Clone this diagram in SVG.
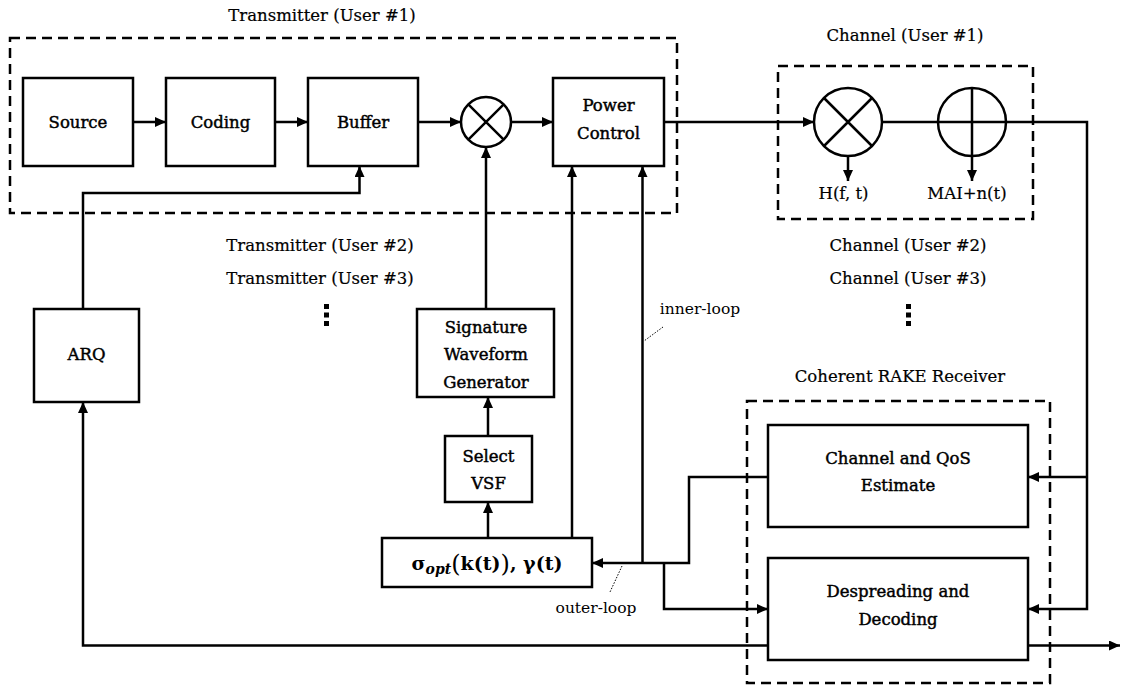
<svg xmlns="http://www.w3.org/2000/svg" width="1134" height="687" viewBox="0 0 1134 687">
<style>
.box{fill:#fff;stroke:#000;stroke-width:2.5}
.dash{fill:none;stroke:#000;stroke-width:2.5;stroke-dasharray:10 6}
.ln{fill:none;stroke:#000;stroke-width:2.5}
.lead{fill:none;stroke:#000;stroke-width:1;stroke-dasharray:1.5 1.5}
text{font-family:"DejaVu Serif","Liberation Serif",serif;fill:#000;text-anchor:middle}
.t{font-size:16.5px;stroke:#000;stroke-width:0.2}
.n{font-size:16.5px;stroke:#000;stroke-width:0.45}
.s{font-size:15.5px}
.dot{fill:#000}
</style>
<defs>
<marker id="ah" markerUnits="userSpaceOnUse" markerWidth="11" markerHeight="10" refX="11" refY="5" orient="auto">
<path d="M0,0 L11,5 L0,10 z" fill="#000"/>
</marker>
</defs>

<g id="labels">
<text class="t" x="322" y="21">Transmitter (User #1)</text>
<text class="t" x="320" y="251">Transmitter (User #2)</text>
<text class="t" x="320" y="284">Transmitter (User #3)</text>
<rect class="dot" x="324" y="304" width="5" height="5"/>
<rect class="dot" x="324" y="312.5" width="5" height="5"/>
<rect class="dot" x="324" y="321" width="5" height="5"/>
<text class="t" x="905" y="41">Channel (User #1)</text>
<text class="t" x="908" y="251">Channel (User #2)</text>
<text class="t" x="908" y="284">Channel (User #3)</text>
<rect class="dot" x="906" y="304" width="5" height="5"/>
<rect class="dot" x="906" y="312.5" width="5" height="5"/>
<rect class="dot" x="906" y="321" width="5" height="5"/>
<text class="t" x="900" y="382">Coherent RAKE Receiver</text>
<text class="s" x="700" y="314">inner-loop</text>
<text class="s" x="596" y="613">outer-loop</text>
</g>

<g id="transmitter-group">
<rect class="dash" x="10" y="38" width="667" height="175"/>
</g>
<g id="channel-group">
<rect class="dash" x="778" y="66" width="255" height="153"/>
</g>
<g id="receiver-group">
<rect class="dash" x="747" y="401" width="303" height="282"/>
</g>

<g id="connectors">
<path class="ln" d="M133,122 H166" marker-end="url(#ah)"/>
<path class="ln" d="M275,122 H308" marker-end="url(#ah)"/>
<path class="ln" d="M418,122 H461" marker-end="url(#ah)"/>
<path class="ln" d="M511,122 H553" marker-end="url(#ah)"/>
<path class="ln" d="M664,122 H814" marker-end="url(#ah)"/>
<path class="ln" d="M882,122 H938"/>
<path class="ln" d="M1006,122 H1087 V609 H1028" marker-end="url(#ah)"/>
<path class="ln" d="M1087,477 H1028" marker-end="url(#ah)"/>
<path class="ln" d="M848,156 V181" marker-end="url(#ah)"/>
<path class="ln" d="M972,156 V181" marker-end="url(#ah)"/>
<path class="ln" d="M486,309 V147" marker-end="url(#ah)"/>
<path class="ln" d="M488,436 V397" marker-end="url(#ah)"/>
<path class="ln" d="M488,538 V502" marker-end="url(#ah)"/>
<path class="ln" d="M572,538 V166" marker-end="url(#ah)"/>
<path class="ln" d="M642.5,563 V166" marker-end="url(#ah)"/>
<path class="ln" d="M768,477 H689 V563 H592" marker-end="url(#ah)"/>
<path class="ln" d="M664,563 V609 H768" marker-end="url(#ah)"/>
<path class="ln" d="M768,645.5 H83 V402" marker-end="url(#ah)"/>
<path class="ln" d="M83,309 V193 H359.5 V166" marker-end="url(#ah)"/>
<path class="ln" d="M1028,645.5 H1120" marker-end="url(#ah)"/>
<path class="lead" d="M663,327 L644,341"/>
<path class="lead" d="M622,566 L610,592"/>
</g>

<g id="source">
<rect class="box" x="23" y="78" width="110" height="88"/>
<text class="n" x="78" y="128">Source</text>
</g>
<g id="coding">
<rect class="box" x="166" y="78" width="109" height="88"/>
<text class="n" x="220.5" y="128">Coding</text>
</g>
<g id="buffer">
<rect class="box" x="308" y="78" width="110" height="88"/>
<text class="n" x="363" y="128">Buffer</text>
</g>
<g id="tx-multiplier">
<circle class="box" cx="486" cy="122" r="25"/>
<path class="ln" d="M468.3,104.3 L503.7,139.7 M503.7,104.3 L468.3,139.7"/>
</g>
<g id="power-control">
<rect class="box" x="553" y="78" width="111" height="88"/>
<text class="n" x="608.5" y="111">Power</text>
<text class="n" x="608.5" y="138.5">Control</text>
</g>
<g id="channel-multiplier">
<circle class="box" cx="848" cy="122" r="34"/>
<path class="ln" d="M824,98 L872,146 M872,98 L824,146"/>
<text class="t" x="843.5" y="199">H(f, t)</text>
</g>
<g id="channel-adder">
<circle class="box" cx="972" cy="122" r="34"/>
<path class="ln" d="M938,122 H1006 M972,88 V156"/>
<text class="t" x="967" y="199">MAI+n(t)</text>
</g>
<g id="arq">
<rect class="box" x="34" y="309" width="105" height="93"/>
<text class="n" x="86.5" y="360">ARQ</text>
</g>
<g id="signature-waveform-generator">
<rect class="box" x="417" y="309" width="137" height="88"/>
<text class="n" x="486" y="333">Signature</text>
<text class="n" x="486" y="360">Waveform</text>
<text class="n" x="486" y="387.5">Generator</text>
</g>
<g id="select-vsf">
<rect class="box" x="445" y="436" width="87" height="66"/>
<text class="n" x="488.5" y="462">Select</text>
<text class="n" x="488.5" y="488.5">VSF</text>
</g>
<g id="sigma-opt">
<rect class="box" x="382" y="538" width="210" height="49"/>
<text x="487" y="570" font-size="19" font-weight="bold">σ<tspan font-style="italic" font-size="14" dy="4">opt</tspan><tspan font-size="24" font-weight="normal" dy="-2">(</tspan><tspan dy="-2">k(t)</tspan><tspan font-size="24" font-weight="normal" dy="2">)</tspan><tspan dy="-2">, γ(t)</tspan></text>
</g>
<g id="channel-qos-estimate">
<rect class="box" x="768" y="425" width="260" height="102"/>
<text class="n" x="898" y="463.5">Channel and QoS</text>
<text class="n" x="898" y="491">Estimate</text>
</g>
<g id="despreading-decoding">
<rect class="box" x="768" y="558" width="260" height="102"/>
<text class="n" x="898" y="597">Despreading and</text>
<text class="n" x="898" y="625">Decoding</text>
</g>
</svg>
